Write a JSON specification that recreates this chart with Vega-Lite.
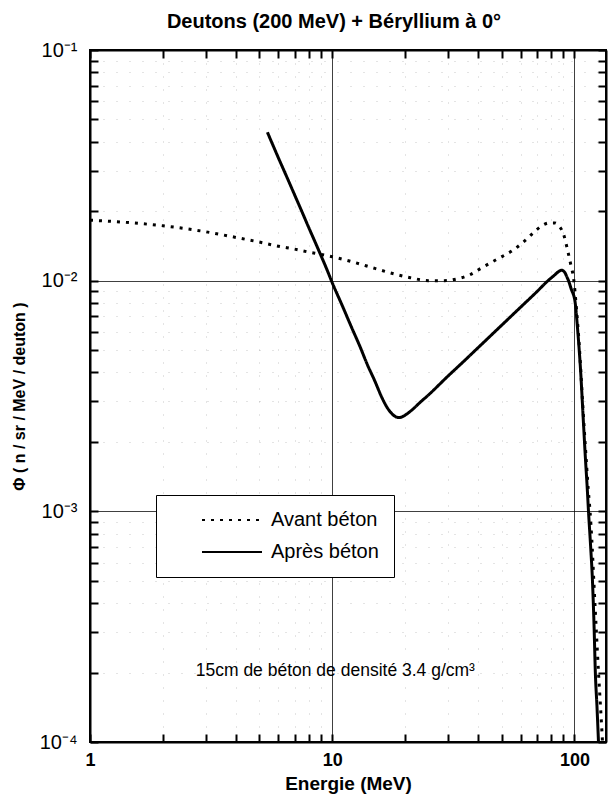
{
  "$schema": "https://vega.github.io/schema/vega-lite/v6.json",
  "width": 516,
  "height": 692,
  "autosize": {"type": "none"},
  "padding": {"left": 90, "top": 50, "right": 4, "bottom": 65},
  "background": "white",
  "title": {
    "text": "Deutons (200 MeV) + Béryllium à 0°",
    "font": "Liberation Sans",
    "fontSize": 20,
    "fontWeight": "bold",
    "anchor": "middle",
    "dx": -14,
    "offset": 8,
    "color": "black"
  },
  "datasets": {
    "curves": [
      {"E": 1, "phi": 0.0183, "serie": "Avant béton"},
      {"E": 1.5, "phi": 0.0178, "serie": "Avant béton"},
      {"E": 2, "phi": 0.0173, "serie": "Avant béton"},
      {"E": 3, "phi": 0.0163, "serie": "Avant béton"},
      {"E": 4, "phi": 0.0154, "serie": "Avant béton"},
      {"E": 5, "phi": 0.0147, "serie": "Avant béton"},
      {"E": 6, "phi": 0.0141, "serie": "Avant béton"},
      {"E": 7, "phi": 0.0137, "serie": "Avant béton"},
      {"E": 8, "phi": 0.0133, "serie": "Avant béton"},
      {"E": 9, "phi": 0.013, "serie": "Avant béton"},
      {"E": 10, "phi": 0.0127, "serie": "Avant béton"},
      {"E": 12, "phi": 0.0121, "serie": "Avant béton"},
      {"E": 15, "phi": 0.0113, "serie": "Avant béton"},
      {"E": 18, "phi": 0.0107, "serie": "Avant béton"},
      {"E": 21, "phi": 0.0103, "serie": "Avant béton"},
      {"E": 25, "phi": 0.01, "serie": "Avant béton"},
      {"E": 29, "phi": 0.01, "serie": "Avant béton"},
      {"E": 33, "phi": 0.0102, "serie": "Avant béton"},
      {"E": 37, "phi": 0.0106, "serie": "Avant béton"},
      {"E": 41, "phi": 0.0113, "serie": "Avant béton"},
      {"E": 48, "phi": 0.0124, "serie": "Avant béton"},
      {"E": 56, "phi": 0.0136, "serie": "Avant béton"},
      {"E": 62, "phi": 0.0148, "serie": "Avant béton"},
      {"E": 68, "phi": 0.0162, "serie": "Avant béton"},
      {"E": 74, "phi": 0.0174, "serie": "Avant béton"},
      {"E": 79, "phi": 0.0178, "serie": "Avant béton"},
      {"E": 83, "phi": 0.0178, "serie": "Avant béton"},
      {"E": 87, "phi": 0.0171, "serie": "Avant béton"},
      {"E": 90, "phi": 0.016, "serie": "Avant béton"},
      {"E": 93.5, "phi": 0.0137, "serie": "Avant béton"},
      {"E": 97, "phi": 0.0115, "serie": "Avant béton"},
      {"E": 99, "phi": 0.0104, "serie": "Avant béton"},
      {"E": 102, "phi": 0.0075, "serie": "Avant béton"},
      {"E": 105, "phi": 0.005, "serie": "Avant béton"},
      {"E": 108, "phi": 0.003, "serie": "Avant béton"},
      {"E": 111, "phi": 0.0019, "serie": "Avant béton"},
      {"E": 114, "phi": 0.00125, "serie": "Avant béton"},
      {"E": 116, "phi": 0.001, "serie": "Avant béton"},
      {"E": 118, "phi": 0.00075, "serie": "Avant béton"},
      {"E": 120, "phi": 0.00052, "serie": "Avant béton"},
      {"E": 123, "phi": 0.00031, "serie": "Avant béton"},
      {"E": 125.7, "phi": 0.0002, "serie": "Avant béton"},
      {"E": 128, "phi": 0.000145, "serie": "Avant béton"},
      {"E": 130.6, "phi": 0.0001, "serie": "Avant béton"},
      {"E": 5.4, "phi": 0.044, "serie": "Après béton"},
      {"E": 6, "phi": 0.034, "serie": "Après béton"},
      {"E": 6.5, "phi": 0.0281, "serie": "Après béton"},
      {"E": 7, "phi": 0.0235, "serie": "Après béton"},
      {"E": 7.5, "phi": 0.0199, "serie": "Après béton"},
      {"E": 8, "phi": 0.017, "serie": "Après béton"},
      {"E": 8.5, "phi": 0.0147, "serie": "Après béton"},
      {"E": 9, "phi": 0.0128, "serie": "Après béton"},
      {"E": 9.5, "phi": 0.0112, "serie": "Après béton"},
      {"E": 10, "phi": 0.0098, "serie": "Après béton"},
      {"E": 11, "phi": 0.0078, "serie": "Après béton"},
      {"E": 12, "phi": 0.0063, "serie": "Après béton"},
      {"E": 13, "phi": 0.0052, "serie": "Après béton"},
      {"E": 14, "phi": 0.0043, "serie": "Après béton"},
      {"E": 15, "phi": 0.00367, "serie": "Après béton"},
      {"E": 16, "phi": 0.00313, "serie": "Après béton"},
      {"E": 17, "phi": 0.00278, "serie": "Après béton"},
      {"E": 17.7, "phi": 0.00264, "serie": "Après béton"},
      {"E": 18.3, "phi": 0.00257, "serie": "Après béton"},
      {"E": 18.9, "phi": 0.00255, "serie": "Après béton"},
      {"E": 19.6, "phi": 0.00258, "serie": "Après béton"},
      {"E": 20.4, "phi": 0.00265, "serie": "Après béton"},
      {"E": 21.5, "phi": 0.00277, "serie": "Après béton"},
      {"E": 23, "phi": 0.00296, "serie": "Après béton"},
      {"E": 25, "phi": 0.0032, "serie": "Après béton"},
      {"E": 30, "phi": 0.00385, "serie": "Après béton"},
      {"E": 35, "phi": 0.00448, "serie": "Après béton"},
      {"E": 40, "phi": 0.00512, "serie": "Après béton"},
      {"E": 50, "phi": 0.0064, "serie": "Après béton"},
      {"E": 60, "phi": 0.00768, "serie": "Après béton"},
      {"E": 70, "phi": 0.00896, "serie": "Après béton"},
      {"E": 77, "phi": 0.0099, "serie": "Après béton"},
      {"E": 83, "phi": 0.0106, "serie": "Après béton"},
      {"E": 86, "phi": 0.01095, "serie": "Après béton"},
      {"E": 88.5, "phi": 0.0111, "serie": "Après béton"},
      {"E": 91, "phi": 0.0109, "serie": "Après béton"},
      {"E": 93, "phi": 0.0104, "serie": "Après béton"},
      {"E": 94.5, "phi": 0.01, "serie": "Après béton"},
      {"E": 97, "phi": 0.0092, "serie": "Après béton"},
      {"E": 100.6, "phi": 0.0081, "serie": "Après béton"},
      {"E": 103, "phi": 0.0062, "serie": "Après béton"},
      {"E": 106, "phi": 0.0041, "serie": "Après béton"},
      {"E": 109, "phi": 0.0024, "serie": "Après béton"},
      {"E": 111, "phi": 0.0017, "serie": "Après béton"},
      {"E": 113, "phi": 0.00125, "serie": "Après béton"},
      {"E": 114.3, "phi": 0.001, "serie": "Après béton"},
      {"E": 116.5, "phi": 0.00072, "serie": "Après béton"},
      {"E": 118.7, "phi": 0.0005, "serie": "Après béton"},
      {"E": 120.5, "phi": 0.00032, "serie": "Après béton"},
      {"E": 122, "phi": 0.0002, "serie": "Après béton"},
      {"E": 124, "phi": 0.00014, "serie": "Après béton"},
      {"E": 125.7, "phi": 0.0001, "serie": "Après béton"}
    ],
    "note": [
      {"E": 10.3, "phi": 0.000203, "label": "15cm de béton de densité 3.4 g/cm³"}
    ]
  },
  "layer": [
    {
      "data": {"name": "curves"},
      "mark": {"type": "line", "color": "black", "strokeWidth": 3, "strokeCap": "butt", "interpolate": "monotone", "clip": true},
      "encoding": {
        "x": {
          "field": "E",
          "type": "quantitative",
          "scale": {"type": "log", "domain": [1, 135], "nice": false},
          "axis": {
            "orient": "bottom",
            "values": [1, 2, 3, 4, 5, 6, 7, 8, 9, 10, 20, 30, 40, 50, 60, 70, 80, 90, 100],
            "labelExpr": "datum.value == 1 ? '1' : datum.value == 10 ? '10' : datum.value == 100 ? '100' : ''",
            "labelFontSize": 18,
            "labelFontWeight": "bold",
            "labelPadding": 17,
            "labelOverlap": false,
            "labelFlush": false,
            "tickSize": -8,
            "tickWidth": 2,
            "grid": true,
            "gridColor": {"condition": {"test": "abs(log(datum.value)/LN10 - round(log(datum.value)/LN10)) < 0.01", "value": "black"}, "value": "#888888"},
            "gridDash": {"condition": {"test": "abs(log(datum.value)/LN10 - round(log(datum.value)/LN10)) < 0.01", "value": [1, 0]}, "value": [1, 12]},
            "gridOpacity": {"condition": {"test": "abs(log(datum.value)/LN10 - round(log(datum.value)/LN10)) < 0.01", "value": 1}, "value": 0.45},
            "gridWidth": 1,
            "title": "Energie (MeV)",
            "titleFontSize": 19,
            "titleFontWeight": "bold",
            "titlePadding": 5,
            "domainWidth": 2
          }
        },
        "y": {
          "field": "phi",
          "type": "quantitative",
          "scale": {"type": "log", "domain": [0.0001, 0.1], "nice": false},
          "axis": {
            "orient": "left",
            "values": [0.0001, 0.0002, 0.0003, 0.0004, 0.0005, 0.0006, 0.0007, 0.0008, 0.0009, 0.001, 0.002, 0.003, 0.004, 0.005, 0.006, 0.007, 0.008, 0.009, 0.01, 0.02, 0.03, 0.04, 0.05, 0.06, 0.07, 0.08, 0.09, 0.1],
            "labelExpr": "abs(log(datum.value)/LN10 - round(log(datum.value)/LN10)) > 0.01 ? '' : round(log(datum.value)/LN10) == -1 ? '10⁻¹' : round(log(datum.value)/LN10) == -2 ? '10⁻²' : round(log(datum.value)/LN10) == -3 ? '10⁻³' : '10⁻⁴'",
            "labelFontSize": 20,
            "labelPadding": 21,
            "labelOverlap": false,
            "labelFlush": false,
            "tickSize": -8,
            "tickWidth": 2,
            "grid": true,
            "gridColor": {"condition": {"test": "abs(log(datum.value)/LN10 - round(log(datum.value)/LN10)) < 0.01", "value": "black"}, "value": "#888888"},
            "gridDash": {"condition": {"test": "abs(log(datum.value)/LN10 - round(log(datum.value)/LN10)) < 0.01", "value": [1, 0]}, "value": [1, 12]},
            "gridOpacity": {"condition": {"test": "abs(log(datum.value)/LN10 - round(log(datum.value)/LN10)) < 0.01", "value": 1}, "value": 0.45},
            "gridWidth": 1,
            "title": "Φ ( n / sr / MeV / deuton )",
            "titleFontSize": 16,
            "titleFontWeight": "bold",
            "titlePadding": 12,
            "domainWidth": 2
          }
        },
        "strokeDash": {
          "field": "serie",
          "type": "nominal",
          "scale": {"domain": ["Avant béton", "Après béton"], "range": [[3, 6], [1, 0]]},
          "legend": {
            "orient": "none",
            "legendX": 66,
            "legendY": 445,
            "title": null,
            "padding": 15,
            "strokeColor": "black",
            "fillColor": "white",
            "symbolType": "stroke",
            "symbolSize": 3600,
            "clipHeight": 20,
            "symbolOffset": 30,
            "symbolStrokeWidth": 2,
            "symbolStrokeColor": "black",
            "labelOffset": 8,
            "labelFontSize": 20,
            "labelFont": "Liberation Sans",
            "labelColor": "black",
            "rowPadding": 12,
            "encode": {
              "symbols": {"update": {"strokeDash": {"signal": "datum.value === 'Avant béton' ? [2, 3] : [1, 0]"}}}
            }
          }
        }
      }
    },
    {
      "data": {"name": "note"},
      "mark": {"type": "text", "font": "Liberation Sans", "fontSize": 17.5, "align": "center", "baseline": "middle", "color": "black"},
      "encoding": {
        "x": {
          "field": "E",
          "type": "quantitative",
          "axis": {"orient": "top", "values": [1, 2, 3, 4, 5, 6, 7, 8, 9, 10, 20, 30, 40, 50, 60, 70, 80, 90, 100], "labels": false, "tickSize": -8, "tickWidth": 2, "grid": false, "title": null, "domainWidth": 2}
        },
        "y": {
          "field": "phi",
          "type": "quantitative",
          "axis": {"orient": "right", "values": [0.0001, 0.0002, 0.0003, 0.0004, 0.0005, 0.0006, 0.0007, 0.0008, 0.0009, 0.001, 0.002, 0.003, 0.004, 0.005, 0.006, 0.007, 0.008, 0.009, 0.01, 0.02, 0.03, 0.04, 0.05, 0.06, 0.07, 0.08, 0.09, 0.1], "labels": false, "tickSize": -8, "tickWidth": 2, "grid": false, "title": null, "domainWidth": 2}
        },
        "text": {"field": "label"}
      }
    }
  ],
  "resolve": {"axis": {"x": "independent", "y": "independent"}},
  "config": {
    "view": {"stroke": "black", "strokeWidth": 2},
    "font": "Liberation Sans",
    "axis": {"labelFont": "Liberation Sans", "titleFont": "Liberation Sans", "labelColor": "black", "titleColor": "black", "tickColor": "black", "domainColor": "black"}
  }
}
